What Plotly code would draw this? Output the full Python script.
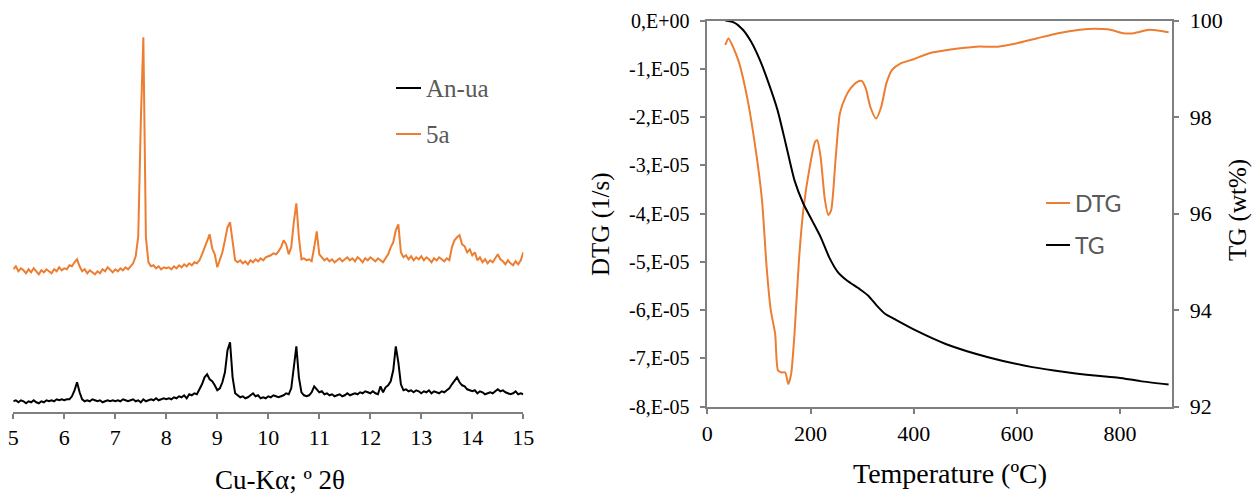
import numpy as np
import plotly.graph_objects as go

# ---------------- XRD patterns (2theta scan, 0.05 deg step) ----------------
two_theta = np.round(np.arange(5.0, 15.0001, 0.05), 2)

xrd_an_ua = [
    11, 12, 10, 12, 11, 9, 11, 10, 12, 10, 9, 11, 10, 12, 11, 12, 11, 13, 12, 13,
    12, 13, 13, 16, 22, 30, 20, 13, 11, 12, 11, 13, 12, 11, 12, 10, 11, 12, 11, 12,
    11, 12, 11, 13, 12, 11, 12, 13, 11, 12, 10, 13, 11, 12, 13, 12, 14, 12, 13, 14,
    13, 14, 13, 15, 14, 16, 15, 17, 14, 18, 17, 19, 18, 23, 28, 35, 38, 33, 31, 27,
    22, 24, 30, 40, 62, 70, 35, 19, 17, 15, 16, 14, 15, 17, 19, 16, 17, 14, 15, 14,
    16, 15, 17, 16, 15, 16, 17, 19, 18, 24, 45, 66, 35, 20, 17, 16, 17, 20, 26, 23,
    20, 21, 18, 19, 17, 18, 16, 17, 18, 16, 17, 19, 17, 18, 19, 18, 20, 19, 21, 20,
    19, 21, 19, 18, 26, 20, 25, 27, 31, 42, 66, 50, 28, 22, 23, 21, 22, 20, 22, 21,
    19, 21, 20, 22, 19, 21, 20, 19, 21, 20, 22, 24, 28, 32, 35, 30, 27, 26, 23, 22,
    21, 22, 19, 21, 20, 18, 19, 20, 19, 21, 23, 21, 22, 20, 19, 18, 19, 21, 18, 19,
    18,
]

xrd_5a = [
    143, 146, 141, 144, 142, 139, 143, 140, 144, 141, 138, 142, 140, 143, 141, 139, 143, 141, 145, 142,
    144, 143, 147, 146, 150, 153, 146, 141, 143, 139, 142, 140, 138, 141, 139, 143, 141, 145, 142, 140,
    143, 141, 144, 142, 145, 143, 146, 149, 156, 176, 290, 375, 175, 150, 146, 147, 144, 146, 143, 145,
    144, 145, 143, 146, 144, 147, 145, 148, 146, 149, 147, 150, 149, 152, 158, 165, 172, 178, 164, 158,
    145, 152, 160, 172, 185, 190, 170, 152, 150, 152, 149, 151, 148, 152, 150, 153, 151, 154, 152, 155,
    156, 157, 159, 158, 161, 165, 172, 168, 158, 165, 190, 209, 175, 153, 154, 152, 153, 151, 165, 181,
    158, 155, 152, 154, 151, 153, 150, 152, 154, 151, 153, 155, 152, 154, 151, 155, 153, 150, 154, 152,
    155, 153, 151, 154, 152, 150, 154, 158, 165, 170, 182, 188, 160, 155, 157, 153, 156, 152, 155, 153,
    156, 152, 155, 153, 150, 154, 152, 155, 153, 151, 154, 152, 165, 172, 175, 177, 168, 166, 160, 163,
    157, 160, 152, 155, 150, 153, 149, 152, 150, 154, 158, 153, 151, 148, 152, 149, 147, 151, 148, 152,
    160,
]

xrd_ticks = [5, 6, 7, 8, 9, 10, 11, 12, 13, 14, 15]

# ---------------- Thermal analysis ----------------
dtg_temp = [35, 41, 60, 77, 94, 106, 115, 123, 131.5, 137, 144, 151, 157, 162.5, 169,
            177.6, 186, 198.5, 209, 213, 219.5, 228, 234.5, 240, 249, 257, 268, 278,
            290.7, 299, 307, 316, 327, 337, 347, 358, 374, 400, 429, 471, 521, 563,
            596, 638, 680, 722, 751, 781, 806, 827, 856, 877, 894]
dtg_e5 = [-0.505, -0.37, -0.82, -1.58, -2.69, -3.72, -5.11, -6.0, -6.49, -7.25, -7.29,
          -7.29, -7.53, -7.32, -6.49, -4.97, -3.93, -3.03, -2.51, -2.48, -2.82, -3.72,
          -4.03, -3.93, -2.82, -1.92, -1.58, -1.40, -1.27, -1.25, -1.40, -1.79, -2.03,
          -1.79, -1.30, -1.02, -0.89, -0.80, -0.68, -0.60, -0.54, -0.54, -0.48, -0.37,
          -0.26, -0.19, -0.17, -0.19, -0.26, -0.26, -0.19, -0.21, -0.24]

tg_temp = [35, 52, 69, 85, 102, 119, 136, 152, 169, 186, 203, 219.5, 236, 253, 270,
           295, 312, 328, 345, 362, 404, 462, 546, 630, 672, 714, 756, 797, 839, 894]
tg_wt = [100.0, 99.96, 99.81, 99.56, 99.18, 98.70, 98.15, 97.45, 96.69, 96.21, 95.86,
         95.52, 95.10, 94.79, 94.62, 94.44, 94.30, 94.10, 93.92, 93.82, 93.58, 93.30,
         93.02, 92.82, 92.75, 92.69, 92.64, 92.60, 92.53, 92.46]

temp_ticks = [0, 200, 400, 600, 800]
dtg_tickvals_e5 = [0, -1, -2, -3, -4, -5, -6, -7, -8]
dtg_ticktext = ["0,E+00", "-1,E-05", "-2,E-05", "-3,E-05", "-4,E-05",
                "-5,E-05", "-6,E-05", "-7,E-05", "-8,E-05"]
tg_ticks = [92, 94, 96, 98, 100]

# ---------------- figure ----------------
W, H = 1255, 496
ORANGE = "#ED7D31"
BLACK = "#000000"
AXIS = "#7F7F7F"
SERIF = "Liberation Serif, Times New Roman, serif"
SANS = "Lato, Liberation Sans, sans-serif"


def fx(px):
    return px / W


def fy(py):
    return 1 - py / H


fig = go.Figure()

fig.add_trace(go.Scatter(x=two_theta, y=xrd_an_ua, mode="lines", name="An-ua",
                         line=dict(color=BLACK, width=2), xaxis="x", yaxis="y",
                         showlegend=False))
fig.add_trace(go.Scatter(x=two_theta, y=xrd_5a, mode="lines", name="5a",
                         line=dict(color=ORANGE, width=2), xaxis="x", yaxis="y",
                         showlegend=False))

dtg = np.array(dtg_e5) * 1e-5
fig.add_trace(go.Scatter(x=dtg_temp, y=dtg, mode="lines", name="DTG",
                         line=dict(color=ORANGE, width=2, shape="spline", smoothing=0.6),
                         xaxis="x2", yaxis="y2", showlegend=False))
fig.add_trace(go.Scatter(x=tg_temp, y=tg_wt, mode="lines", name="TG",
                         line=dict(color=BLACK, width=2, shape="spline", smoothing=0.6),
                         xaxis="x2", yaxis="y3", showlegend=False))

common = dict(showgrid=False, zeroline=False, automargin=False,
              linecolor=AXIS, linewidth=1.5, tickcolor=AXIS, tickwidth=1.5)

fig.update_layout(
    width=W, height=H, autosize=False,
    margin=dict(l=0, r=0, t=0, b=0, pad=0),
    paper_bgcolor="white", plot_bgcolor="white",
    font=dict(family=SERIF, color=BLACK),
    xaxis=dict(domain=[fx(13.3), fx(523.3)], range=[5, 15], tickvals=xrd_ticks,
               showline=True, ticks="outside", ticklen=5,
               tickfont=dict(family=SERIF, size=22, color=BLACK), anchor="y", **common),
    yaxis=dict(domain=[fy(412.3), fy(12.3)], range=[0, 400], visible=False,
               anchor="x", showgrid=False, zeroline=False, automargin=False),
    xaxis2=dict(domain=[fx(707.3), fx(1171.7)], range=[0, 900], tickvals=temp_ticks,
                showline=True, mirror=True, ticks="outside", ticklen=6,
                tickfont=dict(family=SERIF, size=22, color=BLACK), anchor="y2", **common),
    yaxis2=dict(domain=[fy(406.7), fy(20.6)], range=[-8e-5, 0],
                tickvals=[v * 1e-5 for v in dtg_tickvals_e5], ticktext=dtg_ticktext,
                showline=True, ticks="outside", ticklen=6, ticklabelstandoff=6,
                tickfont=dict(family=SERIF, size=20, color=BLACK), anchor="x2", **common),
    yaxis3=dict(domain=[fy(406.7), fy(20.6)], range=[92, 100], tickvals=tg_ticks,
                overlaying="y2", side="right", showline=True, ticks="outside",
                ticklen=6, ticklabelstandoff=6,
                tickfont=dict(family=SERIF, size=22, color=BLACK), anchor="x2", **common),
)

# axis titles
titles = [
    dict(text="Cu-Kα; º 2θ", x=280, y=480, size=27, angle=0),
    dict(text="Temperature (ºC)", x=950, y=473, size=28, angle=0),
    dict(text="DTG (1/s)", x=601, y=225, size=25, angle=-90),
    dict(text="TG (wt%)", x=1238, y=210, size=25, angle=-90),
]
for t in titles:
    fig.add_annotation(text=t["text"], x=fx(t["x"]), y=fy(t["y"]), xref="paper",
                       yref="paper", showarrow=False, textangle=t["angle"],
                       xanchor="center", yanchor="middle",
                       font=dict(family=SERIF, size=t["size"], color=BLACK))

# legends
legend_items = [
    dict(name="An-ua", color=BLACK, x0=396, x1=421, y=88, font=SERIF, size=25),
    dict(name="5a", color=ORANGE, x0=396, x1=421, y=134, font=SERIF, size=25),
    dict(name="DTG", color=ORANGE, x0=1046, x1=1070, y=203, font=SANS, size=23),
    dict(name="TG", color=BLACK, x0=1046, x1=1070, y=245, font=SANS, size=23),
]
for it in legend_items:
    fig.add_shape(type="line", xref="paper", yref="paper",
                  x0=fx(it["x0"]), x1=fx(it["x1"]), y0=fy(it["y"]), y1=fy(it["y"]),
                  line=dict(color=it["color"], width=2))
    fig.add_annotation(text=it["name"], x=fx(it["x1"] + 3), y=fy(it["y"]),
                       xref="paper", yref="paper", showarrow=False,
                       xanchor="left", yanchor="middle",
                       font=dict(family=it["font"], size=it["size"], color="#595959"))

fig.write_html("out.html", config={"responsive": False})
